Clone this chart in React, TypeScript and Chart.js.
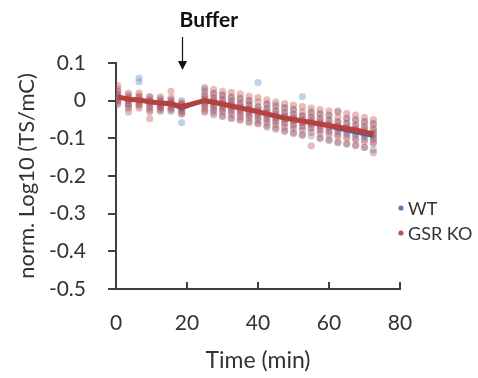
import React, { useEffect, useRef } from "react";
import { Chart, registerables } from "chart.js";

Chart.register(...registerables);

// Time points (min)
const preTimes = [0.5, 3.5, 6.5, 9.5, 12.5, 15.5, 18.5];
const postTimes = [25, 27.5, 30, 32.5, 35, 37.5, 40, 42.5, 45, 47.5, 50, 52.5, 55, 57.5, 60, 62.5, 65, 67.5, 70, 72.5];
const times = [...preTimes, ...postTimes];

// Mean lines
const koMean = [0.01, 0.004, 0.002, -0.003, -0.006, -0.008, -0.016,
  0.0, -0.004, -0.009, -0.014, -0.019, -0.024, -0.029, -0.035, -0.041, -0.046, -0.05, -0.054, -0.058, -0.062, -0.066, -0.07, -0.074, -0.078, -0.083, -0.089];
const wtMean = [0.008, 0.003, 0.001, -0.004, -0.008, -0.01, -0.022,
  0.001, -0.006, -0.011, -0.016, -0.021, -0.026, -0.031, -0.036, -0.041, -0.046, -0.051, -0.055, -0.06, -0.064, -0.069, -0.075, -0.08, -0.085, -0.09, -0.095];

// Individual cells, one list per time point
const koCells = [
  [0.04, 0.03, 0.02, 0.012, 0.005, 0.0, -0.01],
  [0.02, 0.01, 0.005, 0.0, -0.01, -0.02, -0.03],
  [0.02, 0.012, 0.005, 0.0, -0.006, -0.012, -0.02],
  [0.01, 0.002, -0.004, -0.01, -0.02, -0.03, -0.048],
  [0.01, 0.0, -0.005, -0.01, -0.015, -0.02, -0.028],
  [0.025, 0.008, 0.0, -0.006, -0.012, -0.018, -0.025],
  [-0.005, -0.01, -0.015, -0.02, -0.025, -0.03, -0.035],
  [0.035, 0.024, 0.012, 0.004, -0.005, -0.013, -0.022, -0.03],
  [0.03, 0.02, 0.008, 0.0, -0.008, -0.016, -0.026, -0.038],
  [0.025, 0.014, 0.004, -0.005, -0.013, -0.021, -0.03, -0.042],
  [0.022, 0.01, 0.0, -0.01, -0.018, -0.026, -0.036, -0.046],
  [0.018, 0.006, -0.006, -0.015, -0.023, -0.032, -0.042, -0.052],
  [0.012, 0.0, -0.01, -0.02, -0.028, -0.037, -0.046, -0.058],
  [0.008, -0.004, -0.016, -0.025, -0.033, -0.042, -0.052, -0.062],
  [0.002, -0.01, -0.021, -0.03, -0.039, -0.048, -0.058, -0.07],
  [-0.004, -0.016, -0.027, -0.036, -0.045, -0.054, -0.064, -0.076],
  [-0.008, -0.02, -0.032, -0.041, -0.05, -0.059, -0.07, -0.082],
  [-0.012, -0.025, -0.036, -0.046, -0.054, -0.063, -0.074, -0.088],
  [-0.016, -0.03, -0.04, -0.05, -0.058, -0.067, -0.078, -0.092],
  [-0.02, -0.033, -0.044, -0.054, -0.062, -0.071, -0.084, -0.12],
  [-0.024, -0.037, -0.048, -0.058, -0.066, -0.075, -0.087, -0.1],
  [-0.027, -0.04, -0.052, -0.062, -0.07, -0.079, -0.091, -0.104],
  [-0.03, -0.044, -0.056, -0.066, -0.074, -0.083, -0.095, -0.11],
  [-0.034, -0.048, -0.06, -0.07, -0.078, -0.087, -0.099, -0.114],
  [-0.038, -0.052, -0.064, -0.074, -0.082, -0.091, -0.104, -0.118],
  [-0.044, -0.057, -0.069, -0.079, -0.087, -0.096, -0.108, -0.124],
  [-0.05, -0.063, -0.075, -0.085, -0.093, -0.102, -0.114, -0.138],
];
const wtCells = [
  [0.025, 0.015, 0.008, 0.0, -0.005],
  [0.015, 0.005, 0.0, -0.008, -0.015],
  [0.06, 0.05, 0.01, 0.0, -0.01],
  [0.01, 0.0, -0.005, -0.015, -0.025],
  [0.005, -0.003, -0.01, -0.018, -0.025],
  [0.002, -0.005, -0.01, -0.02, -0.028],
  [0.0, -0.01, -0.02, -0.035, -0.058],
  [0.03, 0.015, 0.005, -0.005, -0.015, -0.028],
  [0.018, 0.006, -0.004, -0.012, -0.022, -0.032],
  [0.015, 0.002, -0.008, -0.016, -0.026, -0.04],
  [0.008, -0.004, -0.012, -0.02, -0.03, -0.048],
  [0.005, -0.008, -0.018, -0.026, -0.036, -0.05],
  [0.0, -0.012, -0.022, -0.03, -0.04, -0.055],
  [0.048, -0.018, -0.028, -0.036, -0.046, -0.06],
  [-0.008, -0.022, -0.032, -0.04, -0.05, -0.066],
  [-0.012, -0.028, -0.038, -0.046, -0.056, -0.072],
  [-0.018, -0.032, -0.042, -0.05, -0.06, -0.078],
  [-0.022, -0.036, -0.046, -0.054, -0.066, -0.084],
  [0.011, -0.04, -0.05, -0.058, -0.07, -0.09],
  [-0.03, -0.044, -0.054, -0.062, -0.074, -0.094],
  [-0.034, -0.048, -0.058, -0.068, -0.08, -0.1],
  [-0.038, -0.052, -0.064, -0.072, -0.084, -0.106],
  [-0.027, -0.056, -0.068, -0.078, -0.09, -0.112],
  [-0.046, -0.06, -0.074, -0.082, -0.094, -0.116],
  [-0.05, -0.066, -0.078, -0.088, -0.1, -0.12],
  [-0.055, -0.07, -0.084, -0.092, -0.104, -0.124],
  [-0.06, -0.076, -0.088, -0.098, -0.11, -0.13],
];

const xTicks = [0, 20, 40, 60, 80];
const yTicks = [0.1, 0, -0.1, -0.2, -0.3, -0.4, -0.5];
const seriesNames = ["WT", "GSR KO"];
const annotationText = "Buffer";
const bufferTime = 18.6;

const FONT = "Lato, 'Open Sans', sans-serif";
const TEXT = "#333333";
const AXIS = "#404040";
const BLUE = "#4F81BD";
const RED = "#C0504D";

function cellsToPoints(cells: number[][]) {
  const pts: { x: number; y: number }[] = [];
  cells.forEach((col, i) => col.forEach((v) => pts.push({ x: times[i], y: v })));
  return pts;
}

const decorPlugin = {
  id: "decor",
  afterDraw(chart: any) {
    const ctx = chart.ctx;
    const xs = chart.scales.x;
    const ys = chart.scales.y;
    const area = chart.chartArea;
    ctx.save();
    ctx.strokeStyle = AXIS;
    ctx.lineWidth = 2;
    // y ticks (outward)
    yTicks.forEach((v) => {
      const py = Math.round(ys.getPixelForValue(v));
      ctx.beginPath();
      ctx.moveTo(area.left - 8, py);
      ctx.lineTo(area.left, py);
      ctx.stroke();
    });
    // x ticks (inward)
    xTicks.forEach((v) => {
      const px = Math.round(xs.getPixelForValue(v));
      ctx.beginPath();
      ctx.moveTo(px, area.bottom);
      ctx.lineTo(px, area.bottom - 7);
      ctx.stroke();
    });
    // Buffer arrow
    const ax = Math.round(xs.getPixelForValue(bufferTime)) + 0.5;
    ctx.strokeStyle = "#111";
    ctx.lineWidth = 1.2;
    ctx.beginPath();
    ctx.moveTo(ax, 37);
    ctx.lineTo(ax, 63);
    ctx.stroke();
    ctx.fillStyle = "#111";
    ctx.beginPath();
    ctx.moveTo(ax - 4.5, 61);
    ctx.lineTo(ax + 4.5, 61);
    ctx.lineTo(ax, 70);
    ctx.closePath();
    ctx.fill();
    ctx.font = `bold 21px ${FONT}`;
    ctx.fillStyle = "#111";
    ctx.textAlign = "left";
    ctx.textBaseline = "alphabetic";
    ctx.fillText(annotationText, ax - 3, 27);
    // legend
    const colors = [BLUE, RED];
    ctx.font = `18px ${FONT}`;
    ctx.textBaseline = "middle";
    seriesNames.forEach((name, i) => {
      const cy = 208 + i * 25;
      ctx.fillStyle = colors[i];
      ctx.beginPath();
      ctx.arc(401, cy, 2.6, 0, Math.PI * 2);
      ctx.fill();
      ctx.fillStyle = TEXT;
      ctx.fillText(name, 408, cy + 1);
    });
    ctx.restore();
  },
};

export default function App() {
  const ref = useRef<HTMLCanvasElement | null>(null);
  useEffect(() => {
    if (!ref.current) return;
    const chart = new Chart(ref.current, {
      type: "scatter",
      data: {
        datasets: [
          {
            label: "GSR KO mean",
            data: times.map((t, i) => ({ x: t, y: koMean[i] })),
            showLine: true,
            borderColor: "#B5403D",
            borderWidth: 5,
            pointRadius: 0,
            order: 0,
          },
          {
            label: "WT mean",
            data: times.map((t, i) => ({ x: t, y: wtMean[i] })),
            showLine: true,
            borderColor: "#3F67A8",
            borderWidth: 3,
            pointRadius: 0,
            order: 1,
          },
          {
            label: "GSR KO",
            data: cellsToPoints(koCells),
            backgroundColor: "rgba(192,80,77,0.38)",
            borderWidth: 0,
            pointRadius: 3.6,
            order: 2,
          },
          {
            label: "WT",
            data: cellsToPoints(wtCells),
            backgroundColor: "rgba(79,129,189,0.35)",
            borderWidth: 0,
            pointRadius: 3.6,
            order: 3,
          },
        ],
      },
      options: {
        animation: false,
        responsive: false,
        devicePixelRatio: 1,
        layout: { padding: { top: 63, right: 78, left: 0, bottom: 0 } },
        plugins: { legend: { display: false }, tooltip: { enabled: false } },
        scales: {
          x: {
            type: "linear",
            min: 0,
            max: 80,
            afterBuildTicks: (s: any) => { s.ticks = xTicks.map((v) => ({ value: v })); },
            afterFit: (s: any) => { s.height = 89; },
            grid: { display: false },
            border: { display: true, color: AXIS, width: 2 },
            ticks: { color: TEXT, font: { family: FONT, size: 21 }, padding: 14 },
            title: { display: true, text: "Time (min)", color: TEXT, font: { family: FONT, size: 23 }, padding: { top: 0, bottom: 4 } },
          },
          y: {
            type: "linear",
            min: -0.5,
            max: 0.1,
            afterBuildTicks: (s: any) => { s.ticks = yTicks.map((v) => ({ value: v })); },
            afterFit: (s: any) => { s.width = 116; },
            grid: { display: false },
            border: { display: true, color: AXIS, width: 2 },
            ticks: {
              color: TEXT,
              font: { family: FONT, size: 21 },
              padding: 22,
              callback: (v: any) => String(Number(Number(v).toFixed(1))),
            },
            title: { display: true, text: "norm. Log10 (TS/mC)", color: TEXT, font: { family: FONT, size: 22 }, padding: { top: 14, bottom: 0 } },
          },
        },
      },
      plugins: [decorPlugin],
    });
    return () => chart.destroy();
  }, []);
  return (
    <div style={{ position: "fixed", left: 0, top: 0, width: 478, height: 378, background: "#fff" }}>
      <canvas ref={ref} width={478} height={378} />
    </div>
  );
}
